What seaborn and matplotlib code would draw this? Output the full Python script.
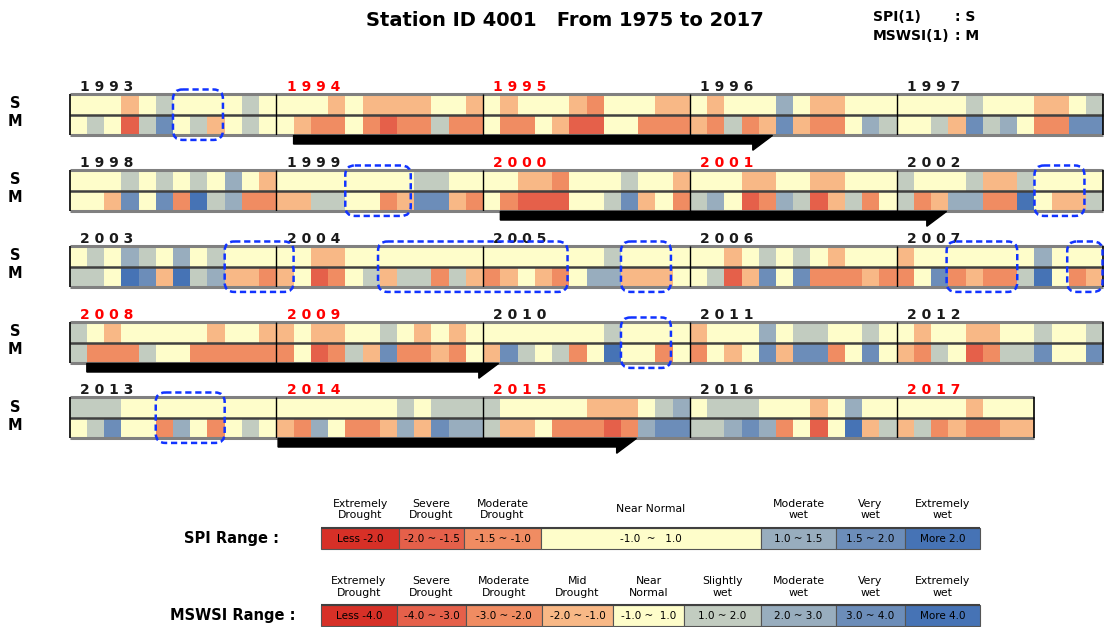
import numpy as np
import matplotlib
matplotlib.use('Agg')
import matplotlib.pyplot as plt
from matplotlib.colors import ListedColormap
from matplotlib.patches import FancyBboxPatch, FancyArrow
import seaborn as sns

# class codes: 0 extreme drought ... 4 near normal ... 8 extremely wet
class_colors = ['#d73027', '#e5604a', '#f08c62', '#f8b886', '#fefdca',
                '#c2ccc0', '#98adbe', '#6c8db9', '#4673b5']

row_years = [[1993, 1994, 1995, 1996, 1997],
             [1998, 1999, 2000, 2001, 2002],
             [2003, 2004, 2005, 2006, 2007],
             [2008, 2009, 2010, 2011, 2012],
             [2013, 2014, 2015, 2016, 2017]]
red_years = [1994, 1995, 2000, 2001, 2008, 2009, 2014, 2015, 2017]

# monthly classes, SPI(1) row (S) and MSWSI(1) row (M)
spi_1993_1997 = [4,4,4,3,4,5,4,4,4,4,5,4, 4,4,4,3,4,3,3,3,3,4,4,3, 4,3,4,4,4,3,2,4,4,4,3,3,
                 4,3,4,4,4,6,4,3,3,4,4,4, 4,4,4,4,5,4,4,4,3,3,4,5]
mswsi_1993_1997 = [4,5,4,1,5,7,4,5,3,4,5,4, 4,3,2,2,4,2,1,2,2,5,2,2, 4,2,2,4,3,1,1,4,4,2,2,2,
                   3,2,5,2,3,7,3,2,2,4,6,5, 4,4,5,3,7,5,6,4,2,2,7,7]
spi_1998_2002 = [4,4,4,5,4,5,4,5,4,6,4,3, 4,4,4,4,4,4,4,4,5,5,4,4, 4,4,3,3,2,4,4,4,5,4,4,3,
                 4,4,4,3,3,4,4,3,3,4,4,4, 5,4,4,4,5,3,3,5,4,4,4,4]
mswsi_1998_2002 = [4,4,3,7,4,7,2,8,5,6,2,2, 3,3,5,5,4,4,2,3,7,7,3,2, 4,2,1,1,1,4,4,5,7,3,4,2,
                   5,6,4,1,2,6,5,1,3,5,2,4, 5,2,3,6,6,2,2,8,4,3,3,5]
spi_2003_2007 = [4,5,4,6,5,4,6,4,5,4,4,4, 4,4,3,3,4,4,4,4,4,4,4,4, 4,4,4,4,4,4,4,5,4,4,4,4,
                 4,4,3,4,5,4,5,4,3,4,4,4, 3,4,4,4,4,4,4,4,6,4,4,4]
mswsi_2003_2007 = [5,5,4,8,7,3,8,5,6,3,3,2, 3,4,1,2,4,5,3,5,5,2,5,3, 2,3,4,3,2,4,6,6,3,3,3,4,
                   4,5,1,3,7,4,7,2,2,2,3,2, 2,4,7,2,3,2,2,5,8,4,2,3]
spi_2008_2012 = [5,4,3,4,4,4,4,4,3,4,4,3, 3,4,3,3,4,4,5,4,3,4,3,4, 4,4,4,4,4,4,4,5,4,4,4,4,
                 3,4,4,4,6,4,5,5,4,4,5,4, 4,3,4,4,3,3,4,4,5,4,4,5]
mswsi_2008_2012 = [5,2,2,2,5,4,4,2,2,2,2,2, 2,4,1,2,5,3,7,2,2,3,2,4, 3,7,5,4,5,2,4,8,4,4,2,4,
                   2,4,3,4,7,3,7,7,2,4,7,4, 3,2,5,4,1,2,5,5,7,4,4,7]
spi_2013_2017 = [5,5,5,4,4,4,4,4,4,4,4,4, 4,4,4,4,4,4,4,5,4,5,5,5, 5,4,4,4,4,4,3,3,3,4,5,6,
                 4,5,5,5,4,4,4,3,4,6,4,4, 4,4,4,4,3,4,4,4]
mswsi_2013_2017 = [4,5,7,4,4,2,6,4,2,4,5,4, 3,2,6,4,2,2,3,6,3,7,6,6, 5,3,3,4,2,2,2,1,2,6,7,7,
                   5,5,6,7,6,2,4,1,4,8,3,5, 3,5,2,3,2,2,3,3]

row_spi = [spi_1993_1997, spi_1998_2002, spi_2003_2007, spi_2008_2012, spi_2013_2017]
row_mswsi = [mswsi_1993_1997, mswsi_1998_2002, mswsi_2003_2007, mswsi_2008_2012, mswsi_2013_2017]

# highlighted periods (row, from month, to month) and drought arrows
dashed_boxes = [(0, 6.0, 8.9), (1, 16.0, 19.8), (1, 56.0, 58.9),
                (2, 9.0, 13.0), (2, 17.9, 28.9), (2, 32.0, 34.9), (2, 50.9, 55.0), (2, 57.9, 59.95),
                (3, 32.0, 34.9), (4, 5.0, 9.0)]
drought_arrows = [(0, 13.0, 40.8), (1, 25.0, 50.9), (3, 1.0, 24.9), (4, 12.1, 32.9)]

# legend
spi_heads = ['Extremely\nDrought', 'Severe\nDrought', 'Moderate\nDrought', 'Near Normal',
             'Moderate\nwet', 'Very\nwet', 'Extremely\nwet']
spi_ranges = ['Less -2.0', '-2.0 ~ -1.5', '-1.5 ~ -1.0', '-1.0  ~   1.0', '1.0 ~ 1.5', '1.5 ~ 2.0', 'More 2.0']
spi_classes = [0, 1, 2, 4, 6, 7, 8]
spi_edges = [321, 399, 464, 541, 761, 836, 905, 980]
mswsi_heads = ['Extremely\nDrought', 'Severe\nDrought', 'Moderate\nDrought', 'Mid\nDrought', 'Near\nNormal',
               'Slightly\nwet', 'Moderate\nwet', 'Very\nwet', 'Extremely\nwet']
mswsi_ranges = ['Less -4.0', '-4.0 ~ -3.0', '-3.0 ~ -2.0', '-2.0 ~ -1.0', '-1.0 ~  1.0',
                '1.0 ~ 2.0', '2.0 ~ 3.0', '3.0 ~ 4.0', 'More 4.0']
mswsi_classes = [0, 1, 2, 3, 4, 5, 6, 7, 8]
mswsi_edges = [321, 397, 466, 542, 613, 684, 761, 836, 905, 980]

W, H = 1107, 627
fig = plt.figure(figsize=(W / 100, H / 100), dpi=100)
cmap = ListedColormap(class_colors)

# overlay axes in pixel coordinates for titles and the legend
lax = fig.add_axes([0, 0, 1, 1])
lax.set_xlim(0, W)
lax.set_ylim(H, 0)
lax.axis('off')

grid_left = 69.6
month_px = 17.23
row_tops = [94, 170, 246, 322, 397]
row_h = 41

for r in range(5):
    top = row_tops[r]
    ax = fig.add_axes([grid_left / W, 1 - (top + row_h) / H, 60 * month_px / W, row_h / H])
    data = np.full((2, 60), np.nan)
    n = len(row_spi[r])
    data[0, :n] = row_spi[r]
    data[1, :n] = row_mswsi[r]
    sns.heatmap(data, ax=ax, cmap=cmap, vmin=-0.5, vmax=8.5, cbar=False,
                xticklabels=False, yticklabels=False)
    ax.hlines([0, 2], 0, n, color='#808080', lw=2.2, clip_on=False)
    ax.hlines(1, 0, n, color='#404040', lw=1.8, clip_on=False)
    ax.vlines([0, n], -0.02, 2.02, color='black', lw=1.2, clip_on=False)
    ax.vlines([12 * k for k in range(1, 5) if 12 * k < n], 0, 2, color='black', lw=1.0)

    for k, yr in enumerate(row_years[r]):
        ax.text(k * 12 + 0.6, -0.17, ' '.join(str(yr)), fontsize=10, fontweight='bold',
                color='#ff0000' if yr in red_years else '#1a1a1a', ha='left', va='baseline')

    for br, x0, x1 in dashed_boxes:
        if br != r:
            continue
        box = FancyBboxPatch((x0, -0.22), x1 - x0, 2.46,
                             boxstyle='round,pad=0,rounding_size=0.55', mutation_aspect=0.84,
                             fill=False, edgecolor='#1133ff', lw=1.8, ls=(0, (2.5, 1.5)),
                             clip_on=False, zorder=6)
        ax.add_patch(box)

    for ar, x0, x1 in drought_arrows:
        if ar != r:
            continue
        arr = FancyArrow(x0, 2.02, x1 - x0, 0, width=0.84, head_width=1.45, head_length=1.15,
                         shape='right', length_includes_head=True, color='black',
                         clip_on=False, zorder=6)
        ax.add_patch(arr)

    lax.text(15, top + 10, 'S', fontsize=10.5, fontweight='bold', ha='center', va='center')
    lax.text(15, top + 28, 'M', fontsize=10.5, fontweight='bold', ha='center', va='center')

# titles
lax.text(565, 20, 'Station ID 4001   From 1975 to 2017', fontsize=14, fontweight='bold',
         ha='center', va='center')
lax.text(873, 17, 'SPI(1)', fontsize=10, fontweight='bold', ha='left', va='center')
lax.text(955, 17, ': S', fontsize=10, fontweight='bold', ha='left', va='center')
lax.text(873, 36, 'MSWSI(1)', fontsize=10, fontweight='bold', ha='left', va='center')
lax.text(955, 36, ': M', fontsize=10, fontweight='bold', ha='left', va='center')


def draw_key(edges, classes, heads, ranges, yc, label, label_x):
    lefts = np.array(edges[:-1], dtype=float)
    widths = np.diff(edges)
    lax.barh([yc] * len(classes), widths, left=lefts, height=21,
             color=[class_colors[c] for c in classes], edgecolor='#555555', linewidth=0.8)
    lax.hlines(yc - 10.5, edges[0], edges[-1], color='#404040', lw=1.5)
    for x0, w, h, t in zip(lefts, widths, heads, ranges):
        if '\n' in h:
            lax.text(x0 + w / 2, yc - 18, h, fontsize=7.8, ha='center', va='bottom',
                     linespacing=1.15)
        else:
            lax.text(x0 + w / 2, yc - 30, h, fontsize=7.8, ha='center', va='center')
        lax.text(x0 + w / 2, yc + 0.5, t, fontsize=7.5, ha='center', va='center')
    lax.text(label_x, yc, label, fontsize=10.5, fontweight='bold', ha='center', va='center')


draw_key(spi_edges, spi_classes, spi_heads, spi_ranges, 538.5, 'SPI Range :', 232)
draw_key(mswsi_edges, mswsi_classes, mswsi_heads, mswsi_ranges, 615.5, 'MSWSI Range :', 233)

fig.savefig('out.png', dpi=100)
